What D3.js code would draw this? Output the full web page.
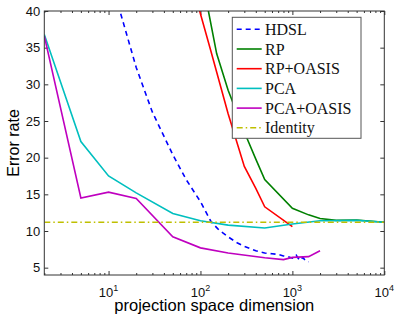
<!DOCTYPE html>
<meta charset="utf-8" />
<html>
<head>
    <style>
        body { margin: 0; background: #fff; }
        .axis path { display: none; }
        .axis line { stroke: #333; }
        .axis text { font-family: "Liberation Sans", Arial, sans-serif; font-size: 13px; fill: #111; }
        .series { fill: none; stroke-width: 1.6px; }
    </style>
</head>
<body>
    <svg width="399" height="316"></svg>
    <script src="https://d3js.org/d3.v7.min.js"></script>
    <script>
        // data
        var hdslX = [12, 13.3, 20, 30, 50, 70, 100, 130, 160, 200, 250, 300, 400, 500, 600, 700, 800, 900, 1000, 1100, 1200, 1300, 1400, 1500];
        var hdslY = [42, 40, 32.3, 26.2, 20.4, 17, 14, 11.3, 10.1, 9.2, 8.4, 7.9, 7.3, 7.0, 6.9, 6.8, 6.6, 6.5, 6.3, 6.7, 6.0, 6.4, 5.9, 5.8];
        var rpX = [110, 122, 150, 200, 300, 400, 500, 1000, 1500, 2000, 3000, 5000, 10000];
        var rpY = [42, 40, 34.2, 29.2, 23.5, 19.8, 17, 13.1, 12.2, 11.7, 11.45, 11.5, 11.2];
        var rpOasisX = [90, 98, 130, 200, 300, 400, 500, 1000];
        var rpOasisY = [42, 40, 34.5, 26, 18.8, 15.8, 13.3, 10.6];
        var pcaX = [2, 5, 10, 20, 50, 100, 200, 500, 1000, 2000, 5000, 10000];
        var pcaY = [36.8, 22.2, 17.5, 15.2, 12.4, 11.4, 10.8, 10.4, 10.95, 11.4, 11.45, 11.2];
        var pcaOasisX = [2, 5, 10, 20, 50, 100, 200, 500, 800, 1000, 1500, 2000];
        var pcaOasisY = [36.6, 14.5, 15.3, 14.45, 9.2, 7.7, 7.0, 6.35, 6.1, 6.4, 6.5, 7.3];
        var identityX = [2, 10000];
        var identityY = [11.2, 11.2];

        var legendNames = ["HDSL", "RP", "RP+OASIS", "PCA", "PCA+OASIS", "Identity"];
        var yTicks = [5, 10, 15, 20, 25, 30, 35, 40];
        var xMajor = [10, 100, 1000, 10000];

        var series = [
            { xs: hdslX, ys: hdslY, color: "#0000ff", dash: "5,4" },
            { xs: rpX, ys: rpY, color: "#008000", dash: null },
            { xs: rpOasisX, ys: rpOasisY, color: "#ff0000", dash: null },
            { xs: pcaX, ys: pcaY, color: "#00bfbf", dash: null },
            { xs: pcaOasisX, ys: pcaOasisY, color: "#bf00bf", dash: null },
            { xs: identityX, ys: identityY, color: "#bfbf00", dash: "6,3,1.5,3" }
        ];

        var svg = d3.select("svg");
        var pLeft = 44.3, pRight = 384.3, pTop = 11, pBottom = 275;

        var x = d3.scaleLog().domain([2, 10000]).range([pLeft, pRight]);
        var y = d3.scaleLinear().domain([4, 40]).range([pBottom, pTop]);

        // minor ticks for the log axis
        var xMinor = [];
        [1, 10, 100, 1000].forEach(function (d) {
            for (var k = 2; k <= 9; k++) {
                if (d * k >= 2) xMinor.push(d * k);
            }
        });

        svg.append("clipPath").attr("id", "clip")
            .append("rect")
            .attr("x", pLeft).attr("y", pTop)
            .attr("width", pRight - pLeft).attr("height", pBottom - pTop);

        // ticks on all four sides, pointing inwards
        svg.append("g").attr("class", "axis")
            .attr("transform", "translate(0," + pBottom + ")")
            .call(d3.axisBottom(x).tickValues(xMinor).tickSize(-2).tickFormat(""));
        svg.append("g").attr("class", "axis")
            .attr("transform", "translate(0," + pTop + ")")
            .call(d3.axisTop(x).tickValues(xMinor).tickSize(-2).tickFormat(""));
        svg.append("g").attr("class", "axis")
            .attr("transform", "translate(0," + pBottom + ")")
            .call(d3.axisBottom(x).tickValues(xMajor).tickSize(-4).tickFormat(""));
        svg.append("g").attr("class", "axis")
            .attr("transform", "translate(0," + pTop + ")")
            .call(d3.axisTop(x).tickValues(xMajor).tickSize(-4).tickFormat(""));

        svg.append("g").attr("class", "axis")
            .attr("transform", "translate(" + pLeft + ",0)")
            .call(d3.axisLeft(y).tickValues(yTicks).tickSize(-4).tickPadding(4));
        svg.append("g").attr("class", "axis")
            .attr("transform", "translate(" + pRight + ",0)")
            .call(d3.axisRight(y).tickValues(yTicks).tickSize(-4).tickFormat(""));

        // x tick labels with superscript exponents
        var xl = svg.append("g").selectAll("text")
            .data(xMajor)
            .enter()
            .append("text")
            .attr("x", function (d) { return x(d); })
            .attr("y", 296.5)
            .attr("text-anchor", "middle")
            .style("font-family", "Liberation Sans, Arial, sans-serif")
            .style("font-size", "13px")
            .style("fill", "#111");
        xl.append("tspan").text("10");
        xl.append("tspan")
            .attr("dy", -6)
            .style("font-size", "9px")
            .text(function (d) { return Math.round(Math.log10(d)); });

        // lines
        var line = d3.line()
            .x(function (d) { return x(d[0]); })
            .y(function (d) { return y(d[1]); });

        svg.append("g").attr("clip-path", "url(#clip)")
            .selectAll("path")
            .data(series)
            .enter()
            .append("path")
            .attr("class", "series")
            .attr("stroke", function (d) { return d.color; })
            .attr("stroke-dasharray", function (d) { return d.dash; })
            .attr("d", function (d) { return line(d3.zip(d.xs, d.ys)); });

        // frame
        svg.append("rect")
            .attr("x", pLeft).attr("y", pTop)
            .attr("width", pRight - pLeft).attr("height", pBottom - pTop)
            .attr("fill", "none").attr("stroke", "#333").attr("stroke-width", 1);

        // axis titles
        svg.append("text")
            .attr("x", (pLeft + pRight) / 2)
            .attr("y", 310.5)
            .attr("text-anchor", "middle")
            .style("font-family", "Liberation Sans, Arial, sans-serif")
            .style("font-size", "16.5px")
            .text("projection space dimension");

        svg.append("text")
            .attr("transform", "translate(18.5," + (pTop + pBottom) / 2 + ") rotate(-90)")
            .attr("text-anchor", "middle")
            .style("font-family", "Liberation Sans, Arial, sans-serif")
            .style("font-size", "16px")
            .text("Error rate");

        // legend
        var lg = svg.append("g");
        lg.append("rect")
            .attr("x", 232.3).attr("y", 17.3)
            .attr("width", 128.7).attr("height", 121)
            .attr("fill", "#fff").attr("stroke", "#555").attr("stroke-width", 1);

        var item = lg.selectAll("g")
            .data(series)
            .enter()
            .append("g")
            .attr("transform", function (d, i) { return "translate(0," + (29.3 + i * 19.7) + ")"; });
        item.append("line")
            .attr("x1", 236.7).attr("x2", 261.7)
            .attr("stroke", function (d) { return d.color; })
            .attr("stroke-width", 1.6)
            .attr("stroke-dasharray", function (d) { return d.dash; });
        item.append("text")
            .attr("x", 265)
            .attr("y", 5.5)
            .style("font-family", "Liberation Serif, Times New Roman, serif")
            .style("font-size", "16px")
            .style("fill", "#111")
            .text(function (d, i) { return legendNames[i]; });
    </script>
</body>
</html>
